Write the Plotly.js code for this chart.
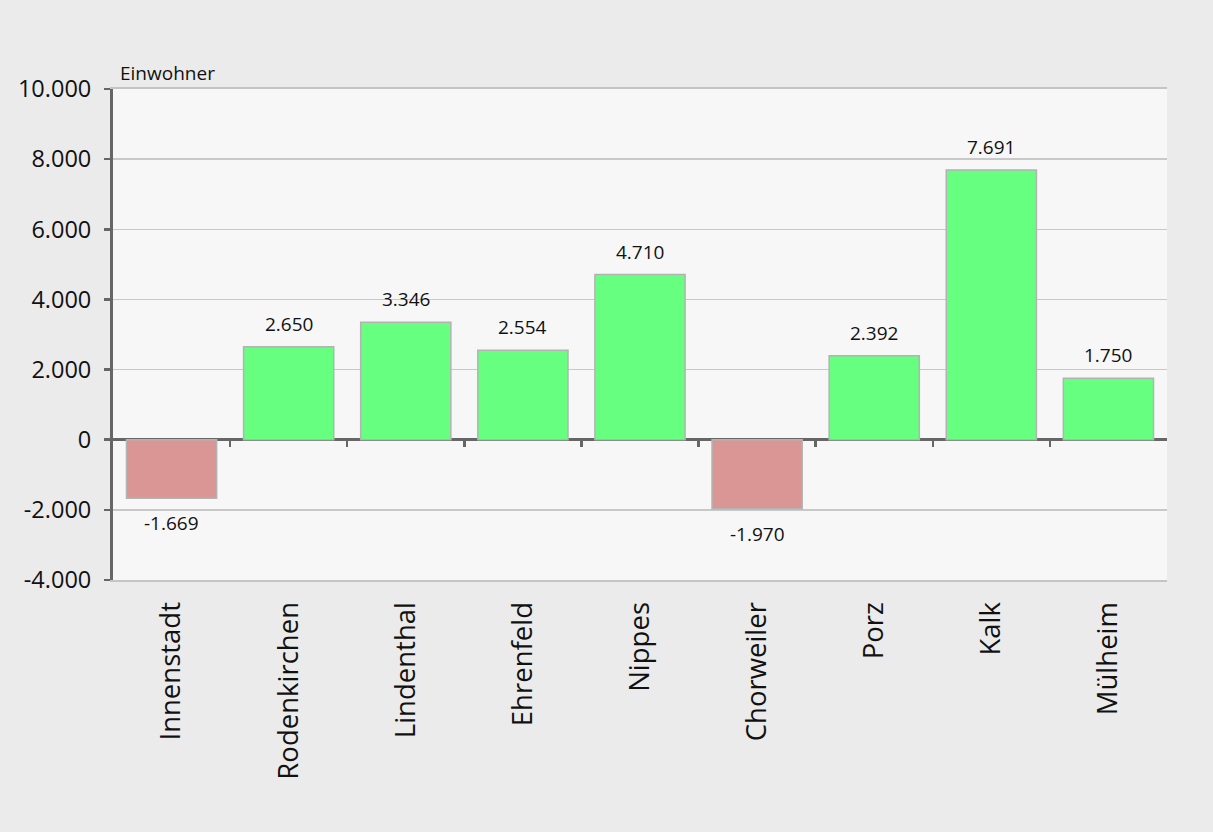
<!DOCTYPE html>
<html><head><meta charset="utf-8">
<script src="https://cdn.plot.ly/plotly-3.0.1.min.js"></script>
<style>html,body{margin:0;padding:0;background:#ebebeb;}#chart{width:1213px;height:832px;}</style>
</head><body><div id="chart"></div>
<script>
const categories = ["Innenstadt","Rodenkirchen","Lindenthal","Ehrenfeld","Nippes","Chorweiler","Porz","Kalk","Mülheim"];
const values = [-1669, 2650, 3346, 2554, 4710, -1970, 2392, 7691, 1750];
const yTickVals = [-4000,-2000,0,2000,4000,6000,8000,10000];
const yTickText = ["-4.000","-2.000","0","2.000","4.000","6.000","8.000","10.000"];
const yTitle = "Einwohner";

const fmt = v => (v<0?"-":"") + Math.abs(v).toLocaleString("de-DE");
const colors = values.map(v => v < 0 ? "#d99694" : "#66ff80");
const idx = categories.map((c,i)=>i);
const boundaries = idx.slice(0,-1).map(i=>i+0.5);
const yMin = yTickVals[0], yMax = yTickVals[yTickVals.length-1];

const font = "Open Sans, Noto Sans, sans-serif";
const trace = {
  type: "bar", x: idx, y: values,
  marker: {color: colors, line: {color: "#b3b3b3", width: 1.5}},
  width: 0.77, hoverinfo: "none"
};
const dummy = {type:"scatter", x:[0], y:[0], xaxis:"x2", mode:"markers", marker:{opacity:0}, hoverinfo:"none", showlegend:false};

const labelAnns = values.map((v,i) => ({
  x: i, y: v, xref: "x", yref: "y", text: fmt(v), showarrow: false,
  yanchor: v < 0 ? "top" : "bottom", yshift: v < 0 ? -10 : 8,
  font: {family: font, size: 19, color: "#111"}
}));

const layout = {
  width: 1213, height: 832,
  paper_bgcolor: "#ebebeb", plot_bgcolor: "#f7f7f7",
  margin: {l:113, r:46, t:89, b:252},
  showlegend: false, bargap: 0.23,
  xaxis: {
    range: [-0.5, categories.length-0.5], tickvals: idx, ticktext: categories,
    tickangle: -90, ticks: "", showgrid: false, zeroline: false,
    showline: true, linecolor: "#c4c4c4", linewidth: 2, mirror: true,
    tickfont: {family: font, size: 27.5, color: "#111"}, ticklabelstandoff: 9
  },
  xaxis2: {
    overlaying: "x", anchor: "free", position: (0 - yMin)/(yMax - yMin),
    range: [-0.5, categories.length-0.5], tickvals: boundaries, showticklabels: false,
    ticks: "outside", ticklen: 6, tickwidth: 2.5, tickcolor: "#666",
    showgrid: false, zeroline: false, showline: false
  },
  yaxis: {
    range: [yMin, yMax], tickvals: yTickVals, ticktext: yTickText,
    ticks: "outside", ticklen: 6, tickwidth: 2.5, tickcolor: "#666",
    showline: true, linecolor: "#666", linewidth: 3,
    gridcolor: "#c8c8c8", gridwidth: 1.5,
    zeroline: true, zerolinecolor: "#666", zerolinewidth: 3,
    tickfont: {family: font, size: 23.5, color: "#111"}, ticklabelstandoff: 8
  },
  annotations: [{
    text: yTitle, xref: "paper", yref: "paper", x: 0.005, y: 1, xanchor: "left", yanchor: "bottom",
    yshift: 1, showarrow: false, font: {family: font, size: 19, color: "#111"}
  }].concat(labelAnns)
};
Plotly.newPlot("chart", [trace, dummy], layout, {displayModeBar: false, staticPlot: true});
</script></body></html>
